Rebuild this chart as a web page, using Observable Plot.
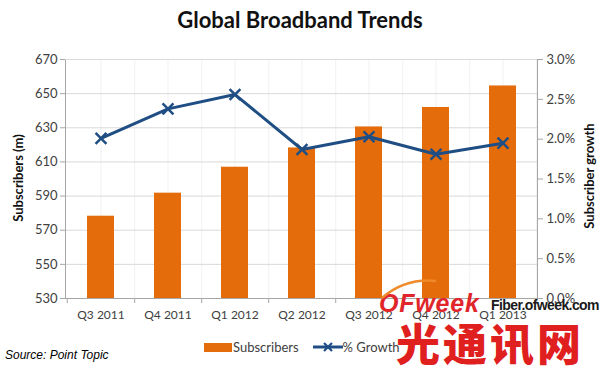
<!DOCTYPE html>
<html>
<head>
<meta charset="utf-8">
<script src="https://cdn.jsdelivr.net/npm/d3@7"></script>
<script src="https://cdn.jsdelivr.net/npm/@observablehq/plot@0.6"></script>
<style>
  html, body { margin: 0; padding: 0; background: #fff; }
  #wrap { position: relative; width: 600px; height: 371px; overflow: hidden; font-family: Lato, "Open Sans", sans-serif; }
  #wrap svg.plot { position: absolute; left: 0; top: 0; }
  .abs { position: absolute; white-space: nowrap; }
</style>
</head>
<body>
<div id="wrap">
  <div class="abs" id="title" style="left:0;width:600px;top:6px;text-align:center;font-weight:700;font-size:22px;color:#111;">Global Broadband Trends</div>
  <div class="abs" style="left:18px;top:178px;transform:translate(-50%,-50%) rotate(-90deg);font-weight:700;font-size:13px;color:#111;">Subscribers (m)</div>
  <div class="abs" style="left:589px;top:176px;transform:translate(-50%,-50%) rotate(-90deg);font-weight:700;font-size:13px;color:#111;">Subscriber growth</div>
  <div class="abs" id="legend" style="left:204px;top:339px;font-size:13px;color:#404040;display:flex;align-items:center;height:16px;">
    <span style="display:inline-block;width:28px;height:9px;background:#e46c0a;"></span>
    <span style="margin-left:1px;">Subscribers</span>
    <svg width="30" height="12" style="margin-left:14px;"><line x1="0" y1="6" x2="30" y2="6" stroke="#1f4e84" stroke-width="3"/><path d="M11,2 L19,10 M19,2 L11,10" stroke="#1f4e84" stroke-width="2.2"/></svg>
    <span>% Growth</span>
  </div>
  <div class="abs" style="left:5px;top:348px;font-family:'Liberation Sans',Arial,sans-serif;font-style:italic;font-size:12px;color:#000;">Source: Point Topic</div>
</div>
<script>
// ---- data ----
const quarters = ["Q3 2011", "Q4 2011", "Q1 2012", "Q2 2012", "Q3 2012", "Q4 2012", "Q1 2013"];
const subscribers = [578.2, 591.7, 606.9, 618.2, 630.5, 641.9, 654.5];   // millions
const growth = [2.01, 2.38, 2.56, 1.87, 2.03, 1.81, 1.95];                 // percent
const leftTicks = [530, 550, 570, 590, 610, 630, 650, 670];
const growthTicks = [0, 0.5, 1.0, 1.5, 2.0, 2.5, 3.0];

// map secondary (percent) axis onto primary (subscribers) scale
const yMin = 530, yMax = 670, gMax = 3.0;
const toLeft = g => yMin + g / gMax * (yMax - yMin);
const fromLeft = v => (v - yMin) / (yMax - yMin) * gMax;

const data = quarters.map((q, i) => ({q, subs: subscribers[i], growth: growth[i]}));

const W = 600, H = 371;
const mL = 65, mR = 63, mT = 59, mB = 73;
const step = (W - mL - mR) / quarters.length;
const axisColor = "#a6a6a6", textColor = "#404040";

const chart = Plot.plot({
  width: W, height: H,
  marginLeft: mL, marginRight: mR, marginTop: mT, marginBottom: mB,
  style: {fontFamily: "Lato, 'Open Sans', sans-serif", fontSize: "12px", color: textColor, background: "transparent"},
  x: {type: "band", domain: quarters, paddingInner: 0.6, paddingOuter: 0.3, label: null},
  y: {domain: [yMin, yMax], label: null},
  marks: [
    Plot.ruleX(quarters, {stroke: "#f1f1f1"}),
    Plot.ruleX(quarters, {stroke: "#f1f1f1", dx: step / 2}),
    Plot.gridY({ticks: leftTicks, stroke: "#d9d9d9", strokeOpacity: 1}),
    Plot.barY(data, {x: "q", y1: yMin, y2: "subs", fill: "#e46c0a"}),
    Plot.line(data, {x: "q", y: d => toLeft(d.growth), stroke: "#1f4e84", strokeWidth: 3}),
    Plot.dot(data, {x: "q", y: d => toLeft(d.growth), symbol: "times", r: 5, stroke: "#1f4e84", strokeWidth: 2.5}),
    Plot.frame({stroke: axisColor, fill: "none"}),
    Plot.gridY({ticks: [yMax], stroke: "#d9d9d9", strokeOpacity: 1}),
    Plot.axisY({anchor: "left", ticks: leftTicks, tickSize: 5, tickPadding: 3, stroke: axisColor, fill: textColor, fontSize: 13, label: null}),
    Plot.axisY({anchor: "right", ticks: growthTicks.map(toLeft), tickSize: 5, tickPadding: 4, stroke: axisColor, fill: textColor, fontSize: 13,
                tickFormat: v => fromLeft(v).toFixed(1) + "%", label: null}),
    Plot.axisX({ticks: quarters, tickSize: 0, tickPadding: 12, fill: textColor, fontSize: 12, label: null}),
    Plot.axisX({ticks: quarters, tickSize: 5, dx: step / 2, text: null, stroke: axisColor, label: null}),
    Plot.axisX({ticks: quarters.slice(0, 1), tickSize: 5, dx: -step / 2, text: null, stroke: axisColor, label: null})
  ]
});
chart.classList.add("plot");
const wrap = document.getElementById("wrap");
wrap.insertBefore(chart, wrap.firstChild);

// watermark
const wm = [
  '<div class="abs" style="left:379px;top:289px;font-family:\'Liberation Sans\',Arial,sans-serif;font-weight:700;font-style:italic;font-size:25px;color:#e0262b;letter-spacing:0.8px;">OFweek</div>',
  '<div class="abs" style="left:491px;top:297px;font-family:\'Liberation Sans\',Arial,sans-serif;font-weight:700;font-size:14px;color:#1a1a1a;letter-spacing:-0.6px;">Fiber.ofweek.com</div>',
  '<div class="abs" style="left:396px;top:316px;font-family:\'Noto Sans CJK SC\',sans-serif;font-weight:900;font-size:44px;line-height:52px;color:#e0201f;letter-spacing:3px;">光通讯网</div>',
  '<svg class="abs" style="left:370px;top:272px;" width="80" height="30"><path d="M12,26 Q35,6 66,9" fill="none" stroke="#ef8a2a" stroke-width="2.5"/></svg>'
];
wm.forEach(h => wrap.insertAdjacentHTML("beforeend", h));
</script>
</body>
</html>
